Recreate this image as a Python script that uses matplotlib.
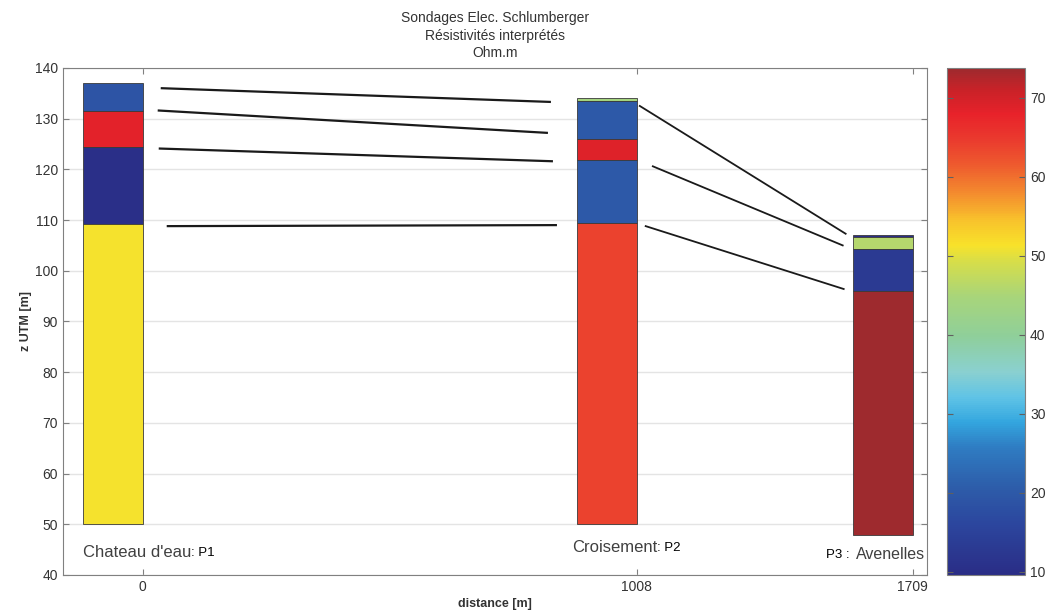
import matplotlib
matplotlib.use('Agg')
import matplotlib.pyplot as plt
from matplotlib.colors import LinearSegmentedColormap, Normalize
from matplotlib.cm import ScalarMappable

# ---------------- data ----------------
title_lines = ["Sondages Elec. Schlumberger", "Résistivités interprétés", "Ohm.m"]
station_pos = [0, 1008, 1571]          # plotting positions of the soundings
station_ticklabels = ["0", "1008", "1709"]
station_names = ["Chateau d'eau", "Croisement", "Avenelles"]
station_codes = ["P1", "P2", "P3"]

# layer tops (m) , bottom of column and interpreted resistivity (Ohm.m)
p1_tops = [137.0, 131.6, 124.4, 109.2]
p1_bottom = 50.0
p1_rho = [19.0, 68.5, 10.3, 51.0]

p2_tops = [134.0, 133.5, 125.9, 121.8, 109.4]
p2_bottom = 50.0
p2_rho = [44.0, 20.0, 69.0, 20.0, 64.0]

p3_tops = [107.1, 106.6, 104.2, 96.0]
p3_bottom = 47.8
p3_rho = [9.6, 46.0, 13.0, 73.8]

# correlation lines between soundings: x0, y0, x1, y1
link_x0 = [38.8, 32.6, 34.7, 51.0, 1014, 1040.6, 1026]
link_y0 = [136.0, 131.6, 124.1, 108.8, 132.5, 120.6, 108.8]
link_x1 = [830.4, 824.3, 834.5, 842.7, 1434, 1428, 1430]
link_y1 = [133.3, 127.2, 121.6, 109.0, 107.3, 105.0, 96.4]

# ---------------- style ----------------
plt.rcParams['font.family'] = ['Liberation Sans', 'DejaVu Sans']

cmap_colors = [
    (0.00, '#2a2d86'),
    (0.10, '#2c469e'),
    (0.17, '#2d5ca9'),
    (0.25, '#2f7cc2'),
    (0.30, '#33a6df'),
    (0.35, '#5fc3e6'),
    (0.40, '#8ad0d0'),
    (0.47, '#8fcf9a'),
    (0.55, '#a8d57a'),
    (0.62, '#d8de48'),
    (0.65, '#f8e22a'),
    (0.70, '#f8c22c'),
    (0.76, '#f3862e'),
    (0.81, '#ee5a2e'),
    (0.86, '#ea3a2e'),
    (0.91, '#e8222a'),
    (0.96, '#c82228'),
    (1.00, '#9e2a2e'),
]
cmap = LinearSegmentedColormap.from_list('resist', cmap_colors)

all_rho = p1_rho + p2_rho + p3_rho
norm = Normalize(vmin=min(all_rho), vmax=max(all_rho))

fig = plt.figure(figsize=(10.49, 6.12), dpi=100)
ax = fig.add_axes([0.060, 0.0605, 0.8237, 0.8285])
cax = fig.add_axes([0.9028, 0.0605, 0.0744, 0.8285])

bar_w = 122
columns = [(p1_tops, p1_bottom, p1_rho), (p2_tops, p2_bottom, p2_rho), (p3_tops, p3_bottom, p3_rho)]
for pos, (tops, bottom, rho) in zip(station_pos, columns):
    lows = tops[1:] + [bottom]
    for t, b, r in zip(tops, lows, rho):
        ax.bar(pos, t - b, bottom=b, width=-bar_w, align='edge',
               color=cmap(norm(r)), edgecolor='#3a3a3a', linewidth=0.6, zorder=3)

for i, (x0, y0, x1, y1) in enumerate(zip(link_x0, link_y0, link_x1, link_y1)):
    ax.plot([x0, x1], [y0, y1], color='#1a1a1a', lw=1.6 if i < 4 else 1.3, zorder=4)

ax.set_xlim(-163, 1600)
ax.set_ylim(40, 140)
ax.set_yticks(range(40, 141, 10))
ax.set_xticks(station_pos)
ax.set_xticklabels(station_ticklabels)
ax.grid(axis='y', color='#e4e4e4', lw=1.0, zorder=0)
ax.set_axisbelow(True)
for s in ax.spines.values():
    s.set_color('#808080')
ax.tick_params(direction='in', top=True, right=True, length=4, color='#808080',
               labelsize=10, labelcolor='#333333')

ax.set_xlabel('distance [m]', fontsize=9, fontweight='bold', color='#333333', labelpad=3)
ax.set_ylabel('z UTM [m]', fontsize=9, fontweight='bold', color='#333333', labelpad=2)
ax.set_title('\n'.join(title_lines), fontsize=10, color='#333333', pad=8, linespacing=1.3)

# station labels
name_y = [44.4, 45.4, 44.0]
t1 = ax.text(station_pos[0] - bar_w, name_y[0], station_names[0], fontsize=12,
             color='#404040', va='center', ha='left')
ax.annotate(': ' + station_codes[0], xy=(1, 0.5), xycoords=t1, fontsize=9.5,
            color='black', va='center', ha='left')
t2 = ax.text(station_pos[1] - bar_w - 10, name_y[1], station_names[1], fontsize=12,
             color='#404040', va='center', ha='left')
ax.annotate(': ' + station_codes[1], xy=(1, 0.5), xycoords=t2, fontsize=9.5,
            color='black', va='center', ha='left')
t3 = ax.text(1597, name_y[2], station_names[2], fontsize=11.5,
             color='#404040', va='center', ha='right')
ax.annotate(station_codes[2] + ' :  ', xy=(0, 0.5), xycoords=t3, fontsize=9.5,
            color='black', va='center', ha='right')

# colorbar
sm = ScalarMappable(norm=norm, cmap=cmap)
cb = fig.colorbar(sm, cax=cax, ticks=range(10, 71, 10))
cb.outline.set_edgecolor('#808080')
cax.tick_params(direction='in', left=True, right=True, length=4, color='#606060',
                labelsize=10, labelcolor='#333333')

fig.savefig('out.png', dpi=100)
